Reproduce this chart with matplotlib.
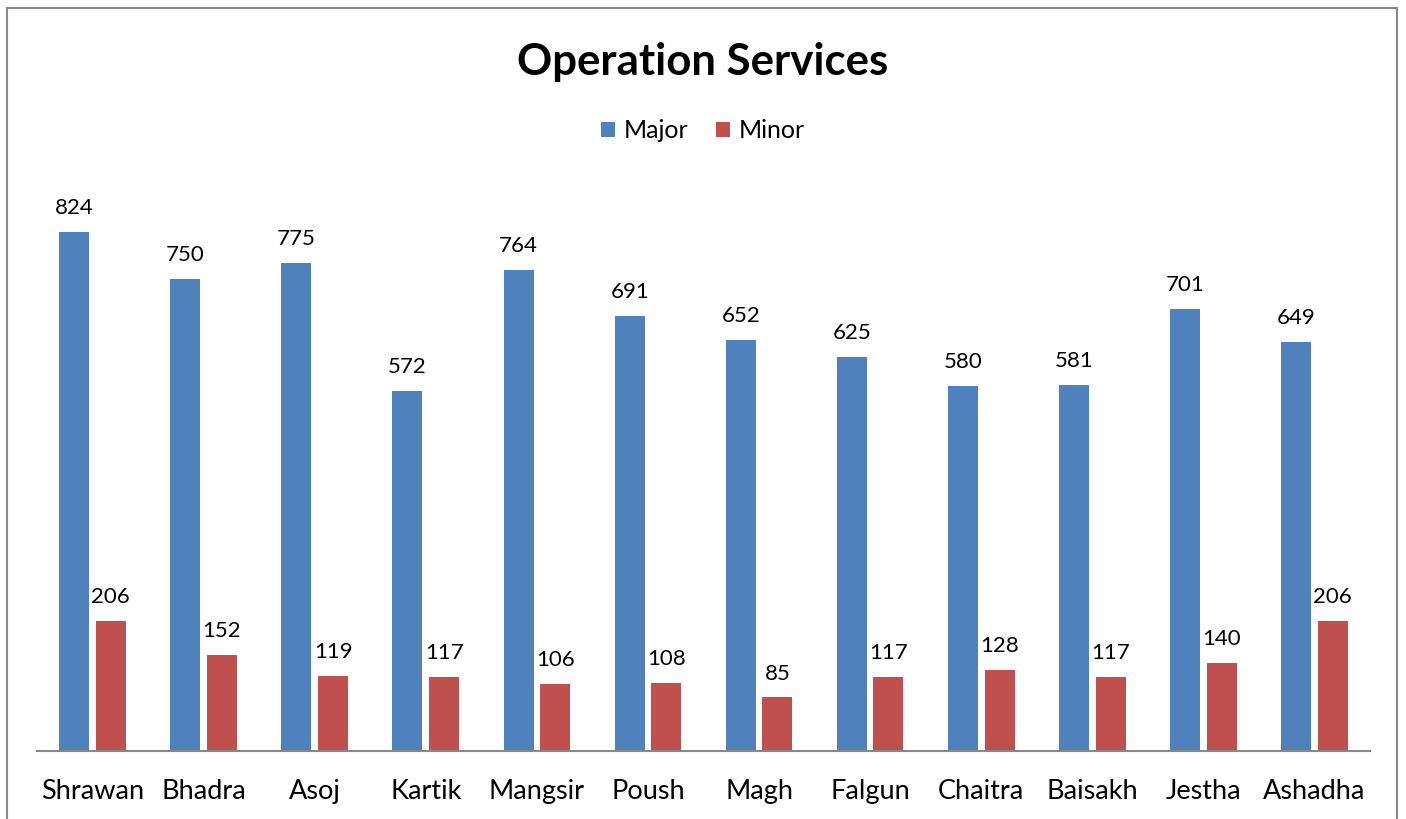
import numpy as np
import matplotlib.pyplot as plt
from matplotlib.patches import Rectangle

# data
months = ['Shrawan', 'Bhadra', 'Asoj', 'Kartik', 'Mangsir', 'Poush',
          'Magh', 'Falgun', 'Chaitra', 'Baisakh', 'Jestha', 'Ashadha']
major = [824, 750, 775, 572, 764, 691, 652, 625, 580, 581, 701, 649]
minor = [206, 152, 119, 117, 106, 108, 85, 117, 128, 117, 140, 206]

plt.rcParams['font.family'] = ['Lato', 'DejaVu Sans']

fig = plt.figure(figsize=(14.06, 8.19), dpi=100)
ax = fig.add_axes([37/1406, 1 - 751/819, (1370-37)/1406, (751-184)/819])

x = np.arange(len(months))
w = 0.27
b1 = ax.bar(x - 0.165, major, w, color='#4F81BD', label='Major')
b2 = ax.bar(x + 0.165, minor, w, color='#C0504D', label='Minor')

for bars in (b1, b2):
    for r in bars:
        ax.annotate(f'{int(r.get_height())}', (r.get_x() + r.get_width()/2, r.get_height()),
                    xytext=(0, 10), textcoords='offset points', ha='center', va='bottom',
                    fontsize=16, color='black')

ax.set_xlim(-0.5, len(months) - 0.5)
ax.set_ylim(0, 900)
ax.set_xticks(x)
ax.set_xticklabels(months, fontsize=19.5)
ax.tick_params(axis='x', length=0, pad=20)
ax.set_yticks([])
for s in ['top', 'right', 'left']:
    ax.spines[s].set_visible(False)
ax.spines['bottom'].set_color('#888888')
ax.spines['bottom'].set_linewidth(1.5)

fig.text(0.5, 1 - 62/819, 'Operation Services', ha='center', va='center',
         fontsize=31.5, fontweight='bold')
fig.legend(loc='center', bbox_to_anchor=(0.5, 1 - 131/819), ncol=2, frameon=False,
           fontsize=18, handlelength=0.55, handleheight=0.55, handletextpad=0.35,
           columnspacing=1.1)

fig.patches.append(Rectangle((7/1406, -0.01), 1390/1406, 1 - 8/819 + 0.01,
                             transform=fig.transFigure, fill=False,
                             edgecolor='#888888', linewidth=1.5))

fig.savefig('out.png', dpi=100)
